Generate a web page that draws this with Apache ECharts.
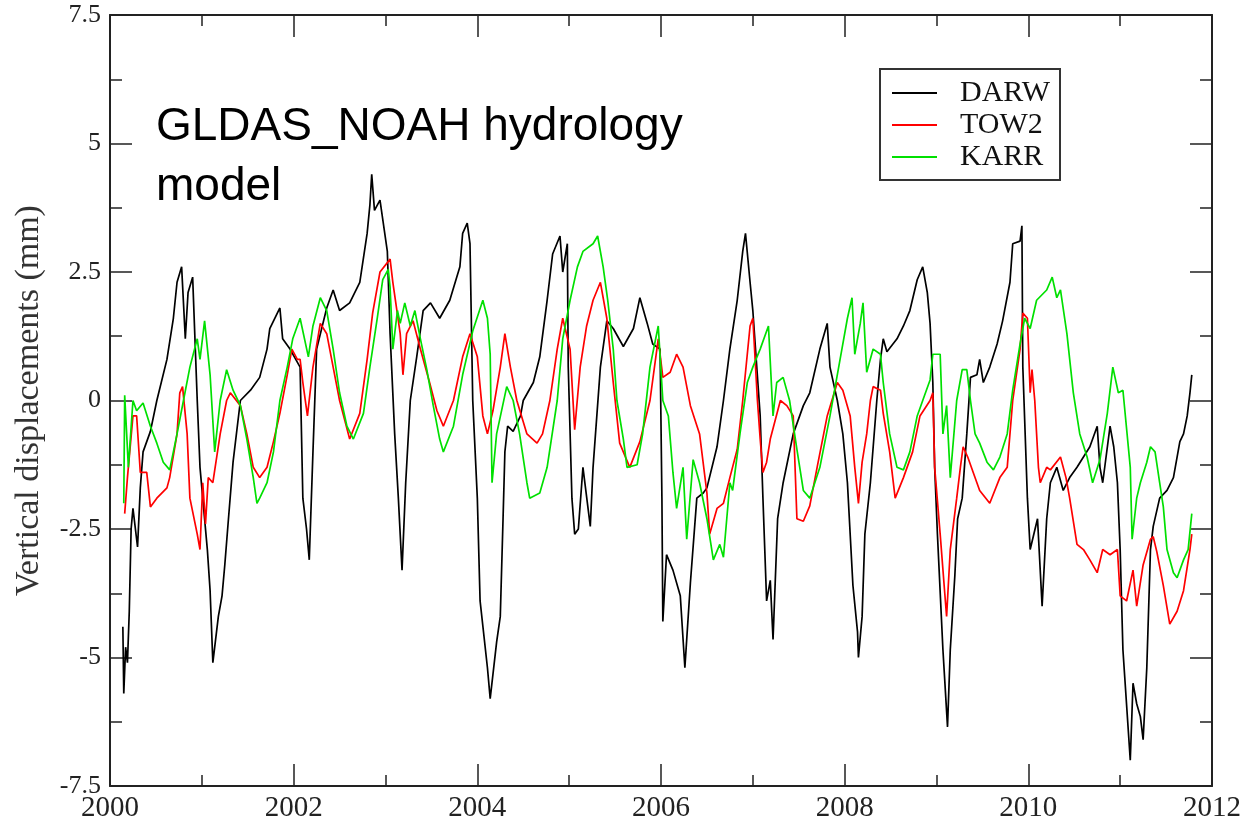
<!DOCTYPE html>
<html>
<head>
<meta charset="utf-8">
<script src="https://cdn.jsdelivr.net/npm/echarts@6/dist/echarts.min.js"></script>
<style>
html,body{margin:0;padding:0;background:#fff;}
#chart{width:1245px;height:826px;}
</style>
</head>
<body>
<div id="chart"></div>
<script>
// ---- data (x = year, y = vertical displacement in mm) ----
const seriesNames = ['DARW', 'TOW2', 'KARR'];
const titleText = 'GLDAS_NOAH hydrology\nmodel';
const yAxisName = 'Vertical displacements (mm)';
const xRange = [2000, 2012];
const yRange = [-7.5, 7.5];

const darwData = [[2000.14,-4.4],[2000.15,-5.7],[2000.17,-4.8],[2000.19,-5.1],[2000.21,-4.1],[2000.23,-2.5],[2000.25,-2.1],[2000.3,-2.85],[2000.33,-1.7],[2000.36,-1.0],[2000.44,-0.6],[2000.51,0],[2000.62,0.8],[2000.69,1.6],[2000.73,2.3],[2000.78,2.6],[2000.82,1.2],[2000.85,2.1],[2000.9,2.4],[2000.95,0],[2000.98,-1.3],[2001.06,-2.9],[2001.09,-3.7],[2001.12,-5.1],[2001.18,-4.2],[2001.22,-3.8],[2001.25,-3.2],[2001.29,-2.3],[2001.34,-1.2],[2001.42,0],[2001.53,0.2],[2001.63,0.45],[2001.71,1.0],[2001.74,1.4],[2001.85,1.8],[2001.88,1.2],[2001.96,1.0],[2002.07,0.65],[2002.1,-1.9],[2002.14,-2.5],[2002.17,-3.1],[2002.21,-1.0],[2002.25,1.0],[2002.36,1.8],[2002.43,2.15],[2002.5,1.75],[2002.61,1.9],[2002.72,2.3],[2002.8,3.25],[2002.83,3.8],[2002.85,4.4],[2002.88,3.7],[2002.94,3.9],[2003.02,2.9],[2003.05,1.3],[2003.1,-0.65],[2003.14,-1.9],[2003.18,-3.3],[2003.22,-1.6],[2003.27,0],[2003.34,0.85],[2003.41,1.75],[2003.49,1.9],[2003.59,1.6],[2003.7,1.95],[2003.81,2.6],[2003.84,3.25],[2003.89,3.45],[2003.92,3.05],[2003.95,0],[2004.0,-1.9],[2004.03,-3.9],[2004.11,-5.2],[2004.14,-5.8],[2004.21,-4.7],[2004.25,-4.2],[2004.28,-2.3],[2004.3,-1.0],[2004.33,-0.5],[2004.39,-0.6],[2004.47,-0.3],[2004.5,0],[2004.61,0.35],[2004.68,0.85],[2004.76,1.95],[2004.82,2.85],[2004.9,3.2],[2004.93,2.5],[2004.98,3.05],[2004.99,0.65],[2005.03,-1.9],[2005.06,-2.6],[2005.1,-2.5],[2005.15,-1.3],[2005.23,-2.45],[2005.26,-1.3],[2005.34,0.65],[2005.41,1.55],[2005.48,1.4],[2005.59,1.05],[2005.7,1.4],[2005.77,2.0],[2005.85,1.5],[2005.91,1.1],[2005.99,1.0],[2006.01,-1.9],[2006.02,-4.3],[2006.06,-3.0],[2006.13,-3.3],[2006.21,-3.8],[2006.26,-5.2],[2006.32,-3.55],[2006.39,-1.9],[2006.46,-1.8],[2006.5,-1.7],[2006.61,-0.9],[2006.68,0],[2006.75,1.0],[2006.83,1.95],[2006.89,2.9],[2006.92,3.25],[2006.97,2.3],[2007.0,1.75],[2007.08,-0.3],[2007.11,-1.9],[2007.15,-3.9],[2007.19,-3.5],[2007.22,-4.65],[2007.27,-2.3],[2007.33,-1.6],[2007.44,-0.65],[2007.55,-0.1],[2007.62,0.15],[2007.73,1.0],[2007.81,1.5],[2007.84,0.65],[2007.92,0],[2007.98,-0.65],[2008.03,-1.6],[2008.09,-3.6],[2008.14,-4.5],[2008.15,-5.0],[2008.19,-4.2],[2008.22,-2.6],[2008.28,-1.6],[2008.35,0],[2008.39,0.8],[2008.42,1.2],[2008.46,0.95],[2008.57,1.2],[2008.64,1.45],[2008.71,1.75],[2008.79,2.35],[2008.85,2.6],[2008.9,2.1],[2008.93,1.5],[2008.96,0.35],[2008.98,-1.3],[2009.01,-2.6],[2009.07,-4.85],[2009.12,-6.35],[2009.15,-4.85],[2009.2,-3.4],[2009.23,-2.3],[2009.28,-1.9],[2009.33,-0.65],[2009.37,0.45],[2009.44,0.5],[2009.47,0.8],[2009.51,0.35],[2009.58,0.65],[2009.66,1.1],[2009.72,1.55],[2009.8,2.3],[2009.83,3.05],[2009.91,3.1],[2009.93,3.4],[2009.94,0.65],[2009.99,-1.9],[2010.02,-2.9],[2010.1,-2.3],[2010.15,-4.0],[2010.2,-2.3],[2010.24,-1.6],[2010.31,-1.3],[2010.38,-1.75],[2010.45,-1.5],[2010.53,-1.3],[2010.6,-1.1],[2010.67,-0.9],[2010.75,-0.5],[2010.78,-1.3],[2010.81,-1.6],[2010.89,-0.5],[2010.93,-0.9],[2010.97,-1.6],[2011.0,-2.9],[2011.03,-4.85],[2011.11,-7.0],[2011.14,-5.5],[2011.18,-5.9],[2011.22,-6.15],[2011.25,-6.6],[2011.29,-5.2],[2011.33,-2.9],[2011.36,-2.45],[2011.43,-1.9],[2011.51,-1.75],[2011.58,-1.5],[2011.63,-1.0],[2011.65,-0.8],[2011.69,-0.65],[2011.73,-0.3],[2011.76,0.15],[2011.78,0.5]];

const tow2Data = [[2000.16,-2.2],[2000.19,-1.5],[2000.25,-0.3],[2000.29,-0.3],[2000.33,-1.4],[2000.4,-1.4],[2000.44,-2.07],[2000.51,-1.9],[2000.62,-1.7],[2000.65,-1.5],[2000.73,-0.65],[2000.76,0.15],[2000.79,0.27],[2000.84,-0.65],[2000.87,-1.9],[2000.95,-2.6],[2000.98,-2.9],[2001.01,-1.6],[2001.04,-2.4],[2001.07,-1.5],[2001.12,-1.6],[2001.2,-0.65],[2001.27,0],[2001.31,0.15],[2001.42,-0.1],[2001.49,-0.65],[2001.56,-1.3],[2001.63,-1.5],[2001.71,-1.3],[2001.78,-0.8],[2001.85,-0.25],[2001.93,0.5],[2001.98,1.0],[2002.04,0.8],[2002.07,0.8],[2002.1,0.35],[2002.15,-0.3],[2002.21,0.65],[2002.29,1.5],[2002.36,1.3],[2002.43,0.65],[2002.5,0],[2002.61,-0.75],[2002.72,-0.25],[2002.8,0.8],[2002.86,1.7],[2002.94,2.5],[2003.05,2.75],[2003.08,2.3],[2003.16,1.3],[2003.19,0.5],[2003.23,1.3],[2003.3,1.55],[2003.38,1.0],[2003.48,0.35],[2003.56,-0.2],[2003.63,-0.5],[2003.74,0],[2003.84,0.85],[2003.92,1.3],[2004.0,0.85],[2004.06,-0.3],[2004.11,-0.65],[2004.17,-0.2],[2004.25,0.65],[2004.3,1.3],[2004.36,0.65],[2004.43,0],[2004.54,-0.65],[2004.65,-0.83],[2004.71,-0.65],[2004.79,0],[2004.87,1.0],[2004.93,1.6],[2005.01,1.0],[2005.06,-0.57],[2005.12,0.65],[2005.19,1.45],[2005.26,1.95],[2005.34,2.3],[2005.41,1.6],[2005.48,0.35],[2005.55,-0.83],[2005.66,-1.3],[2005.77,-0.8],[2005.88,0],[2005.97,1.2],[2006.02,0.45],[2006.1,0.55],[2006.17,0.9],[2006.24,0.65],[2006.32,-0.1],[2006.42,-0.65],[2006.5,-1.8],[2006.53,-2.6],[2006.61,-2.1],[2006.68,-2.0],[2006.75,-1.5],[2006.83,-0.95],[2006.89,0],[2006.97,1.45],[2007.0,1.6],[2007.05,0],[2007.08,-0.75],[2007.11,-1.4],[2007.15,-1.2],[2007.19,-0.75],[2007.3,0],[2007.37,-0.1],[2007.44,-0.3],[2007.48,-2.3],[2007.55,-2.35],[2007.62,-2.05],[2007.7,-1.3],[2007.81,-0.3],[2007.92,0.35],[2007.98,0.2],[2008.06,-0.3],[2008.11,-1.3],[2008.15,-2.0],[2008.19,-1.2],[2008.24,-0.65],[2008.28,0],[2008.31,0.27],[2008.39,0.2],[2008.42,-0.25],[2008.49,-1.0],[2008.55,-1.9],[2008.64,-1.5],[2008.74,-1.0],[2008.82,-0.3],[2008.93,0],[2008.96,0.15],[2008.98,-1.3],[2009.04,-2.6],[2009.09,-3.75],[2009.11,-4.2],[2009.15,-2.9],[2009.22,-1.9],[2009.26,-1.3],[2009.29,-0.9],[2009.34,-1.1],[2009.4,-1.4],[2009.47,-1.75],[2009.58,-2.0],[2009.69,-1.5],[2009.77,-1.3],[2009.83,0],[2009.91,1.0],[2009.94,1.7],[2009.99,1.6],[2010.02,0.15],[2010.04,0.6],[2010.07,0],[2010.11,-1.3],[2010.13,-1.6],[2010.2,-1.3],[2010.24,-1.35],[2010.35,-1.1],[2010.41,-1.5],[2010.45,-1.9],[2010.53,-2.8],[2010.6,-2.9],[2010.67,-3.1],[2010.75,-3.35],[2010.81,-2.9],[2010.89,-3.0],[2010.97,-2.9],[2011.0,-3.8],[2011.07,-3.9],[2011.14,-3.3],[2011.18,-4.0],[2011.25,-3.2],[2011.33,-2.7],[2011.36,-2.65],[2011.4,-2.95],[2011.47,-3.6],[2011.54,-4.35],[2011.62,-4.1],[2011.69,-3.7],[2011.76,-2.9],[2011.78,-2.6]];

const karrData = [[2000.15,-2.0],[2000.16,0.1],[2000.2,-1.3],[2000.25,0],[2000.29,-0.2],[2000.36,-0.05],[2000.44,-0.5],[2000.51,-0.83],[2000.58,-1.2],[2000.65,-1.35],[2000.73,-0.65],[2000.8,0],[2000.87,0.65],[2000.95,1.2],[2000.98,0.8],[2001.03,1.55],[2001.09,0.5],[2001.14,-1.0],[2001.2,0],[2001.27,0.6],[2001.34,0.2],[2001.42,-0.1],[2001.49,-0.75],[2001.56,-1.5],[2001.6,-2.0],[2001.63,-1.9],[2001.71,-1.6],[2001.78,-1.0],[2001.85,0],[2001.93,0.65],[2001.99,1.2],[2002.07,1.6],[2002.16,0.85],[2002.21,1.45],[2002.29,2.0],[2002.36,1.75],[2002.43,1.0],[2002.5,0.15],[2002.58,-0.5],[2002.65,-0.75],[2002.76,-0.25],[2002.83,0.65],[2002.91,1.6],[2002.97,2.35],[2003.03,2.55],[2003.05,2.2],[2003.08,1.0],[2003.13,1.75],[2003.16,1.5],[2003.21,1.9],[2003.27,1.45],[2003.32,1.75],[2003.38,1.2],[2003.45,0.6],[2003.52,-0.1],[2003.59,-0.75],[2003.63,-1.0],[2003.74,-0.5],[2003.84,0.5],[2003.95,1.35],[2004.06,1.95],[2004.11,1.6],[2004.14,0.9],[2004.16,-1.6],[2004.21,-0.65],[2004.32,0.27],[2004.39,0],[2004.46,-0.65],[2004.54,-1.6],[2004.57,-1.9],[2004.68,-1.8],[2004.76,-1.3],[2004.87,0],[2004.93,1.2],[2005.01,1.95],[2005.09,2.6],[2005.15,2.9],[2005.26,3.05],[2005.31,3.2],[2005.37,2.6],[2005.42,1.95],[2005.48,1.0],[2005.52,0],[2005.59,-0.75],[2005.63,-1.3],[2005.74,-1.25],[2005.8,-0.65],[2005.88,0.65],[2005.97,1.45],[2006.02,0],[2006.08,-0.3],[2006.13,-1.4],[2006.17,-2.1],[2006.24,-1.3],[2006.28,-2.7],[2006.35,-1.15],[2006.42,-1.6],[2006.5,-2.3],[2006.57,-3.1],[2006.64,-2.8],[2006.68,-3.05],[2006.75,-1.6],[2006.78,-1.75],[2006.86,-0.65],[2006.94,0.35],[2007.0,0.65],[2007.08,1.0],[2007.17,1.45],[2007.2,0.4],[2007.22,-0.3],[2007.26,0.35],[2007.33,0.45],[2007.4,0],[2007.48,-0.95],[2007.55,-1.75],[2007.62,-1.9],[2007.73,-1.3],[2007.84,-0.3],[2007.95,0.8],[2008.03,1.6],[2008.08,2.0],[2008.11,0.9],[2008.17,1.5],[2008.2,1.9],[2008.24,0.55],[2008.31,1.0],[2008.39,0.9],[2008.42,0.35],[2008.49,-0.65],[2008.57,-1.3],[2008.64,-1.35],[2008.71,-1.0],[2008.79,-0.3],[2008.85,0],[2008.93,0.4],[2008.96,0.9],[2009.04,0.9],[2009.07,-0.65],[2009.11,-0.1],[2009.15,-1.5],[2009.22,0],[2009.28,0.6],[2009.33,0.6],[2009.37,0],[2009.42,-0.65],[2009.47,-0.83],[2009.55,-1.2],[2009.62,-1.35],[2009.69,-1.1],[2009.77,-0.65],[2009.83,0.2],[2009.91,1.1],[2009.96,1.6],[2010.02,1.4],[2010.09,1.95],[2010.2,2.15],[2010.26,2.4],[2010.31,2.0],[2010.35,2.15],[2010.42,1.3],[2010.49,0.15],[2010.56,-0.65],[2010.64,-1.1],[2010.7,-1.6],[2010.78,-1.15],[2010.86,-0.25],[2010.92,0.65],[2010.98,0.15],[2011.03,0.2],[2011.11,-1.3],[2011.13,-2.7],[2011.18,-1.9],[2011.22,-1.6],[2011.29,-1.2],[2011.33,-0.9],[2011.38,-1.0],[2011.43,-1.6],[2011.47,-2.07],[2011.51,-2.9],[2011.58,-3.35],[2011.62,-3.45],[2011.69,-3.1],[2011.74,-2.9],[2011.78,-2.2]];

const seriesColors = ['#000000', '#ff0000', '#00e000'];
const seriesData = [darwData, tow2Data, karrData];

// ---- chart ----
const chart = echarts.init(document.getElementById('chart'), null, {renderer: 'canvas'});
const serif = 'Liberation Serif, Times New Roman, serif';
const frameColor = '#222';

function xAxisCfg(pos, showLabel) {
  return {
    type: 'value', position: pos, min: xRange[0], max: xRange[1], interval: 2,
    axisLine: {show: true, onZero: false, lineStyle: {color: frameColor, width: 2}},
    axisTick: {show: true, inside: true, length: 22, lineStyle: {color: frameColor, width: 1.5}},
    minorTick: {show: true, splitNumber: 2, length: 11, lineStyle: {color: frameColor, width: 1.5}},
    splitLine: {show: false}, minorSplitLine: {show: false},
    axisLabel: {show: showLabel, formatter: v => String(v), fontFamily: serif, fontSize: 29, color: '#222', margin: 8}
  };
}
function yAxisCfg(pos, showLabel) {
  return {
    type: 'value', position: pos, min: yRange[0], max: yRange[1], interval: 2.5,
    axisLine: {show: true, onZero: false, lineStyle: {color: frameColor, width: 2}},
    axisTick: {show: true, inside: true, length: 22, lineStyle: {color: frameColor, width: 1.5}},
    minorTick: {show: true, splitNumber: 2, length: 12, lineStyle: {color: frameColor, width: 1.5}},
    splitLine: {show: false}, minorSplitLine: {show: false},
    axisLabel: {show: showLabel, fontFamily: serif, fontSize: 26, color: '#222', margin: 9},
    name: showLabel ? yAxisName : '',
    nameLocation: 'middle', nameGap: 64,
    nameTextStyle: {fontFamily: serif, fontSize: 34, color: '#333'}
  };
}

const option = {
  animation: false,
  backgroundColor: '#ffffff',
  title: {
    text: titleText, left: 151, top: 92,
    textStyle: {fontFamily: 'Liberation Sans, Arial, sans-serif', fontSize: 46, fontWeight: 'normal', color: '#000', lineHeight: 60}
  },
  legend: {
    data: seriesNames, orient: 'vertical', left: 880, top: 69,
    padding: [9, 10, 8, 12], itemGap: 2, itemWidth: 45, itemHeight: 2, icon: 'rect',
    borderColor: '#333', borderWidth: 2, backgroundColor: '#fff',
    textStyle: {fontFamily: serif, fontSize: 30, lineHeight: 30, color: '#111', padding: [0, 0, 0, 18]}
  },
  grid: {left: 110, right: 33, top: 15, bottom: 40, containLabel: false},
  xAxis: [xAxisCfg('bottom', true), xAxisCfg('top', false)],
  yAxis: [yAxisCfg('left', true), yAxisCfg('right', false)],
  series: seriesNames.map((n, i) => ({
    name: n, type: 'line', xAxisIndex: 0, yAxisIndex: 0,
    data: seriesData[i], symbol: 'none', showSymbol: false,
    lineStyle: {color: seriesColors[i], width: 1.7}, itemStyle: {color: seriesColors[i]},
    z: 2 + i
  }))
};
chart.setOption(option);
</script>
</body>
</html>
